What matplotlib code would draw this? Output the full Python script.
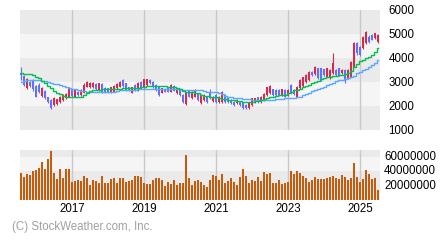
import matplotlib
matplotlib.use("Agg")
import matplotlib.pyplot as plt
import matplotlib.transforms as mtransforms
import numpy as np
import pandas as pd

months = pd.date_range("2015-08-01", periods=120, freq="MS")

opens = [3389,3250,2736,3014,3083,2834,2875,2417,2639,2361,2250,2042,2084,2181,2250,2320,2389,2667,2389,2597,
         2459,2556,2806,2778,2778,2917,2667,2917,2736,2736,2597,2597,2736,2806,3083,2945,2778,2556,2875,2667,
         3014,2778,2875,3083,3014,2875,2778,2556,2722,2778,2597,2834,2528,2695,2459,2084,2639,2320,2389,2528,
         2111,2250,2389,2597,2222,2459,2181,2181,2459,2320,2250,2181,2111,2181,2111,2042,1903,2042,2181,2361,
         2181,2250,2459,2528,2695,2667,2667,2459,2667,2459,2875,2667,2389,2736,2834,3014,3083,3431,3334,3570,
         3570,3528,3222,3153,3361,3500,3570,3361,3500,3153,3222,3639,4639,4472,4403,4611,4889,4959,4820,4681]
highs = [3639,3292,3153,3056,3139,2875,2945,2778,2667,2389,2278,2361,2306,2417,2486,2528,2778,2695,2695,2625,
         2695,2945,3042,3000,3000,2945,2972,2945,2778,2764,2806,2861,2945,3042,3111,2972,2806,2806,2903,3000,
         3042,3139,3139,3111,3042,2903,2806,2764,2750,2806,2903,2861,2722,2722,2486,2556,2667,2625,2695,2556,
         2486,2486,2417,2695,2417,2486,2417,2639,2486,2348,2278,2222,2278,2222,2139,2084,2139,2348,2348,2389,
         2417,2528,2806,2861,2722,2695,2695,2722,2695,2695,2903,2695,2834,3111,3222,3334,3472,3472,3667,3597,
         3597,3556,3597,3528,4195,3528,3597,3528,3528,3528,3875,4681,4681,4500,4917,5139,4959,5000,5056,5000]
lows = [3083,2834,2695,2778,2639,2361,2556,2389,2278,2111,1861,2000,2042,2139,2222,2278,2361,2389,2361,2417,
        2417,2528,2778,2736,2750,2667,2639,2556,2528,2528,2556,2570,2709,2778,2806,2611,2611,2528,2611,2639,
        2709,2750,2847,2917,2750,2639,2417,2528,2570,2570,2570,2611,2500,2417,2111,2042,2361,2278,2361,2222,
        2084,2222,2139,2278,2181,2139,2139,2139,2139,2139,2084,2000,2084,2000,1861,1861,1861,2000,2139,2139,
        2139,2222,2417,2500,2417,2417,2417,2417,2361,2417,2500,2472,2361,2695,2806,2972,3056,3250,3292,3111,
        3056,3250,3195,3111,3334,3250,3250,3334,2945,3111,3195,3611,4125,4083,4361,4583,4639,4750,4778,4639]
closes = [3292,2875,3111,2834,2695,2389,2597,2736,2320,2181,1903,2320,2278,2389,2459,2500,2736,2417,2667,2459,
          2667,2875,3014,2972,2945,2695,2945,2597,2556,2556,2778,2834,2917,3014,2834,2639,2639,2778,2639,2972,
          2736,3111,3111,2945,2778,2667,2459,2736,2597,2597,2875,2639,2695,2459,2181,2528,2389,2597,2667,2250,
          2459,2459,2181,2320,2389,2181,2389,2597,2181,2181,2111,2042,2250,2042,1903,1903,2111,2320,2320,2181,
          2389,2500,2778,2834,2459,2459,2459,2695,2389,2667,2528,2500,2806,3083,3195,3292,3431,3292,3639,3153,
          3083,3292,3570,3500,3778,3292,3292,3500,3083,3500,3848,4639,4195,4125,4889,5097,4681,4750,5028,4959]
ma_short = [3361,3347,3333,3320,3278,3222,3153,3056,2945,2833,2736,2639,2556,2486,2431,2375,2361,2361,2361,2361,
            2389,2472,2556,2611,2653,2667,2681,2695,2695,2695,2695,2695,2708,2722,2736,2736,2736,2736,2736,2750,
            2778,2806,2833,2833,2833,2833,2833,2833,2820,2806,2792,2778,2736,2695,2639,2597,2583,2570,2556,2528,
            2472,2431,2403,2389,2375,2361,2334,2306,2278,2250,2250,2237,2223,2209,2181,2167,2167,2181,2195,2209,
            2250,2292,2334,2361,2389,2417,2445,2458,2472,2528,2597,2653,2667,2722,2778,2833,2889,2945,3000,3056,
            3111,3167,3209,3222,3236,3250,3278,3306,3333,3389,3472,3639,3750,3861,3917,3986,4056,4139,4250,4403]
ma_long = [3014,3042,3070,3083,3083,3083,3070,3056,3028,3000,2973,2931,2903,2875,2847,2806,2764,2722,2695,2667,
           2639,2611,2597,2584,2584,2584,2584,2584,2584,2584,2584,2597,2625,2653,2667,2667,2667,2667,2681,2695,
           2695,2709,2722,2722,2722,2709,2695,2695,2695,2695,2695,2695,2695,2695,2667,2667,2667,2667,2667,2667,
           2653,2625,2597,2597,2597,2584,2556,2500,2431,2389,2361,2347,2334,2320,2306,2292,2278,2264,2250,2250,
           2250,2250,2250,2250,2264,2278,2292,2306,2320,2320,2320,2334,2361,2389,2445,2500,2556,2611,2667,2722,
           2764,2806,2861,2917,2972,3028,3070,3097,3125,3153,3195,3250,3361,3431,3500,3556,3639,3722,3806,3917]
volume = [37.0,31.7,35.9,34.5,40.0,41.4,44.0,52.4,42.8,56.6,67.6,37.0,29.0,42.8,30.3,42.8,42.8,24.8,26.2,27.6,
          26.2,33.0,30.3,20.7,27.6,26.2,23.4,33.0,23.4,23.4,29.0,30.3,23.4,30.3,30.3,24.8,26.2,27.6,33.0,33.0,
          31.7,23.4,22.0,22.0,27.6,30.3,30.3,27.6,19.3,24.8,22.0,27.6,20.7,23.4,23.4,62.0,30.3,20.7,26.2,27.6,
          24.8,20.7,17.9,27.6,34.5,33.0,27.6,35.9,23.4,26.2,30.3,24.8,20.7,31.7,42.8,33.0,23.4,27.6,26.2,31.7,
          26.2,38.6,35.9,37.2,23.4,23.4,27.6,22.0,23.4,24.8,40.0,35.9,40.0,37.2,33.0,30.3,24.8,27.6,31.7,29.0,
          29.0,29.0,30.3,31.7,33.0,30.3,29.0,34.5,31.7,27.6,30.3,51.0,31.7,24.8,29.0,41.4,35.9,29.0,30.3,13.8]
volume = [v * 1e6 for v in volume]

price_ticks = [1000, 2000, 3000, 4000, 5000, 6000]
vol_ticks = [20000000, 40000000, 60000000]

UP = "#d8284c"
DOWN = "#6070ff"
DARK = "#eaeaea"
LIGHT = "#f5f5f5"
GRID = "#c8c8c8"
FONT = "Liberation Sans"

x = np.arange(len(closes))
o = np.array(opens); h = np.array(highs); l = np.array(lows); c = np.array(closes)
up = c >= o

fig = plt.figure(figsize=(4.4, 2.4), dpi=100)
fig.patch.set_facecolor("white")
ax = fig.add_axes([20/440, 1-130/240, 360/440, 120/240])
axv = fig.add_axes([20/440, 1-200/240, 360/440, 50/240])

xmin, xmax = -1/3, 119 + 2/3
for a in (ax, axv):
    a.set_xlim(xmin, xmax)
    for s in a.spines.values():
        s.set_visible(False)
    a.set_facecolor("white")

ax.set_ylim(price_ticks[0], price_ticks[-1])
for k in range(len(price_ticks) - 1):
    ax.axhspan(price_ticks[k], price_ticks[k+1], color=DARK if k % 2 == 0 else LIGHT, lw=0, zorder=0)
years = [i for i, d in enumerate(months) if d.month == 1 and d.year % 2 == 1]
for a in (ax, axv):
    for i in years:
        a.axvline(i, color=GRID, lw=1.0, zorder=1)

ax.vlines(x[up], l[up], h[up], color=UP, lw=0.8, zorder=3)
ax.vlines(x[~up], l[~up], h[~up], color=DOWN, lw=0.8, zorder=3)
ax.bar(x[up], (c - o)[up], bottom=o[up], width=0.67, color=UP, lw=0, zorder=3)
ax.bar(x[~up], (o - c)[~up], bottom=c[~up], width=0.67, color=DOWN, lw=0, zorder=3)
ax.step(x, ma_long, where="mid", color="#5aa8ff", lw=1.0, zorder=4)
ax.step(x, ma_short, where="mid", color="#00c050", lw=1.0, zorder=4)

ax.yaxis.tick_right()
ax.set_yticks(price_ticks)
ax.set_yticklabels([str(t) for t in price_ticks], fontsize=8.3, family=FONT)
ax.tick_params(axis="y", length=0, pad=6)
ax.set_xticks([])

vtop = 69.4e6
axv.set_ylim(0, vtop)
axv.axhspan(0, vol_ticks[1], color=DARK, lw=0, zorder=0)
axv.axhspan(vol_ticks[1], vol_ticks[2], color=LIGHT, lw=0, zorder=0)
axv.axhspan(vol_ticks[2], vtop, color=DARK, lw=0, zorder=0)
axv.bar(x, volume, width=0.67, color="#c85a0c", lw=0, zorder=3)
axv.yaxis.tick_right()
axv.set_yticks(vol_ticks)
axv.set_yticklabels([str(t) for t in vol_ticks], fontsize=8.3, family=FONT)
axv.tick_params(axis="y", length=0, pad=3)
axv.set_xticks(years)
axv.set_xticklabels([str(months[i].year) for i in years], fontsize=8.3, family=FONT)
axv.tick_params(axis="x", length=0, pad=2)

off = mtransforms.ScaledTranslation(0, 1.5/100, fig.dpi_scale_trans)
for lab in axv.get_yticklabels():
    lab.set_transform(lab.get_transform() + off)

fig.text(12/440, 1-227/240, "(C) StockWeather.com, Inc.", fontsize=8.3, family=FONT,
         color="#a0a0a0", va="center", ha="left")

fig.savefig("out.png", dpi=100)
